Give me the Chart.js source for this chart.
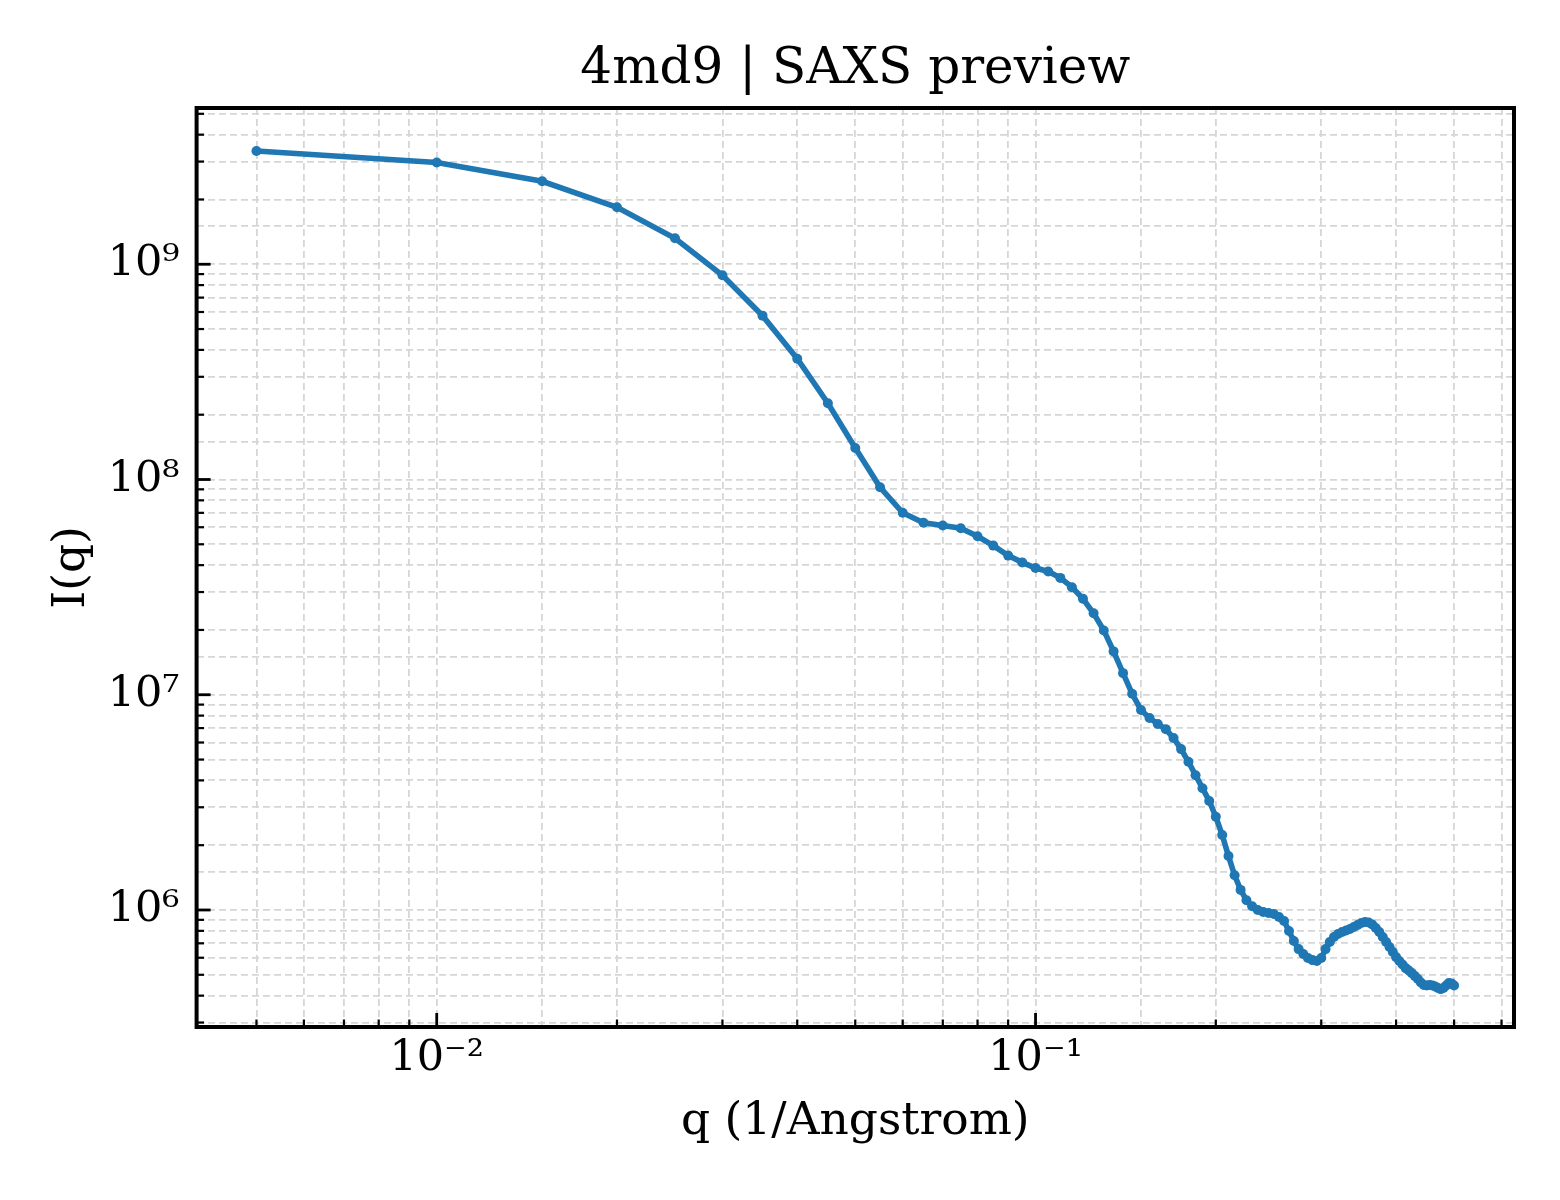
<!DOCTYPE html>
<html><head><meta charset="utf-8">
<script src="https://cdn.jsdelivr.net/npm/chart.js@4.4.0/dist/chart.umd.min.js"></script>
<style>html,body{margin:0;padding:0;background:#fff;} #wrap{width:1560px;height:1200px;}</style>
</head><body><div id="wrap"><canvas id="c" width="1560" height="1200"></canvas></div>
<script>
const qValues = [
  0.005, 0.010, 0.015, 0.020, 0.025, 0.030, 0.035, 0.040, 0.045, 0.050,
  0.055, 0.060, 0.065, 0.070, 0.075, 0.080, 0.085, 0.090, 0.095, 0.100,
  0.105, 0.110, 0.115, 0.120, 0.125, 0.130, 0.135, 0.140, 0.145, 0.150,
  0.155, 0.160, 0.165, 0.170, 0.175, 0.180, 0.185, 0.190, 0.195, 0.200,
  0.205, 0.210, 0.215, 0.220, 0.225, 0.230, 0.235, 0.240, 0.245, 0.250,
  0.255, 0.260, 0.265, 0.270, 0.275, 0.280, 0.285, 0.290, 0.295, 0.300,
  0.305, 0.310, 0.315, 0.320, 0.325, 0.330, 0.335, 0.340, 0.345, 0.350,
  0.355, 0.360, 0.365, 0.370, 0.375, 0.380, 0.385, 0.390, 0.395, 0.400,
  0.405, 0.410, 0.415, 0.420, 0.425, 0.430, 0.435, 0.440, 0.445, 0.450,
  0.455, 0.460, 0.465, 0.470, 0.475, 0.480, 0.485, 0.490, 0.495, 0.500
];
const intensity = [
  3.36e9, 2.97e9, 2.43e9, 1.84e9, 1.32e9, 8.89e8, 5.77e8, 3.64e8, 2.26e8, 1.40e8,
  9.2e7, 7.0e7, 6.29e7, 6.11e7, 5.94e7, 5.45e7, 4.93e7, 4.43e7, 4.12e7, 3.88e7,
  3.74e7, 3.49e7, 3.16e7, 2.79e7, 2.39e7, 1.99e7, 1.59e7, 1.26e7, 1.01e7, 8.5e6,
  7.8e6, 7.31e6, 6.92e6, 6.29e6, 5.59e6, 4.88e6, 4.23e6, 3.68e6, 3.21e6, 2.71e6,
  2.23e6, 1.78e6, 1.45e6, 1.24e6, 1.11e6, 1.04e6, 1.00e6, 9.79e5, 9.68e5, 9.58e5,
  9.28e5, 8.89e5, 7.99e5, 7.17e5, 6.58e5, 6.24e5, 5.98e5, 5.85e5, 5.79e5, 5.98e5,
  6.58e5, 7.10e5, 7.49e5, 7.73e5, 7.90e5, 8.03e5, 8.16e5, 8.33e5, 8.52e5, 8.70e5,
  8.80e5, 8.75e5, 8.56e5, 8.25e5, 7.90e5, 7.49e5, 7.10e5, 6.73e5, 6.38e5, 6.04e5,
  5.79e5, 5.58e5, 5.37e5, 5.23e5, 5.09e5, 4.93e5, 4.78e5, 4.60e5, 4.48e5, 4.46e5,
  4.48e5, 4.46e5, 4.41e5, 4.34e5, 4.29e5, 4.34e5, 4.46e5, 4.58e5, 4.56e5, 4.46e5
];
const xTickValues = [0.01, 0.1];
const xTickLabels = ['10\u207B\u00B2', '10\u207B\u00B9'];
const yTickValues = [1e6, 1e7, 1e8, 1e9];
const yTickLabels = ['10\u2076', '10\u2077', '10\u2078', '10\u2079'];
const chartTitle = '4md9 | SAXS preview';
const xTitle = 'q (1/Angstrom)';
const yTitle = 'I(q)';
const xRange = [0.003972, 0.6295];
const yRange = [2.86e5, 5.32e9];

const points = qValues.map((q, i) => ({x: q, y: intensity[i]}));
function labelFor(values, labels, v) {
  for (let i = 0; i < values.length; i++) {
    if (Math.abs(v / values[i] - 1) < 1e-6) return labels[i];
  }
  return '';
}
const FONT = 'DejaVu Serif';
Chart.defaults.font.family = FONT;
Chart.defaults.color = '#000';

const frame = {
  id: 'frame',
  afterDatasetsDraw(chart) {
    const ctx = chart.ctx, a = chart.chartArea;
    ctx.save();
    ctx.strokeStyle = '#000';
    ctx.lineCap = 'butt';
    for (const id of ['x', 'y']) {
      const s = chart.scales[id];
      for (const t of s.ticks) {
        const v = t.value;
        const e = Math.floor(Math.log10(v) + 1e-9);
        const m = v / Math.pow(10, e);
        if (Math.abs(m - Math.round(m)) > 1e-6) continue;
        const major = Math.round(m) === 1 || Math.round(m) === 10;
        const len = major ? 14 : 7.5;
        ctx.lineWidth = major ? 2.8 : 2.2;
        const p = s.getPixelForValue(v);
        ctx.beginPath();
        if (id === 'x') {
          if (p < a.left + 1 || p > a.right - 1) continue;
          ctx.moveTo(p, a.bottom); ctx.lineTo(p, a.bottom - len);
        } else {
          if (p < a.top + 1 || p > a.bottom - 1) continue;
          ctx.moveTo(a.left, p); ctx.lineTo(a.left + len, p);
        }
        ctx.stroke();
      }
    }
    ctx.lineWidth = 4;
    ctx.strokeRect(a.left, a.top, a.right - a.left, a.bottom - a.top);
    ctx.restore();
  }
};

new Chart(document.getElementById('c'), {
  type: 'line',
  data: {
    datasets: [{
      data: points,
      borderColor: '#1f77b4',
      backgroundColor: '#1f77b4',
      borderWidth: 5.6,
      pointRadius: 5,
      pointBorderWidth: 0,
      pointBackgroundColor: '#1f77b4',
      pointHoverRadius: 5,
      tension: 0,
      fill: false
    }]
  },
  plugins: [frame],
  options: {
    responsive: false,
    devicePixelRatio: 1,
    animation: false,
    events: [],
    layout: {padding: {left: 0, right: 46, top: 0, bottom: 0}},
    plugins: {
      legend: {display: false},
      tooltip: {enabled: false},
      title: {
        display: true,
        fullSize: false,
        text: chartTitle,
        color: '#000',
        font: {family: FONT, size: 50, weight: 'normal', lineHeight: 1.2},
        padding: {top: 40, bottom: 8}
      }
    },
    scales: {
      x: {
        type: 'logarithmic',
        min: xRange[0], max: xRange[1],
        afterFit(s) { s.height = 173; },
        grid: {color: '#d6d6d6', lineWidth: 1.8, drawTicks: false},
        border: {display: false, dash: [7, 4]},
        ticks: {
          autoSkip: false, maxRotation: 0, minRotation: 0, padding: 6,
          font: {family: FONT, size: 43}, color: '#000',
          callback: (v) => labelFor(xTickValues, xTickLabels, v)
        },
        title: {display: true, text: xTitle, color: '#000',
          font: {family: FONT, size: 45.5, lineHeight: 1.2}, padding: {top: 0, bottom: 51}}
      },
      y: {
        type: 'logarithmic',
        min: yRange[0], max: yRange[1],
        afterFit(s) { s.width = 196.6; },
        grid: {color: '#d6d6d6', lineWidth: 1.8, drawTicks: false},
        border: {display: false, dash: [7, 4]},
        ticks: {
          autoSkip: false, padding: 17,
          font: {family: FONT, size: 43}, color: '#000',
          callback: (v) => labelFor(yTickValues, yTickLabels, v)
        },
        title: {display: true, text: yTitle, color: '#000',
          font: {family: FONT, size: 45.5, lineHeight: 1.2}, padding: {top: 45, bottom: 0}}
      }
    }
  }
});
</script>
</body></html>
